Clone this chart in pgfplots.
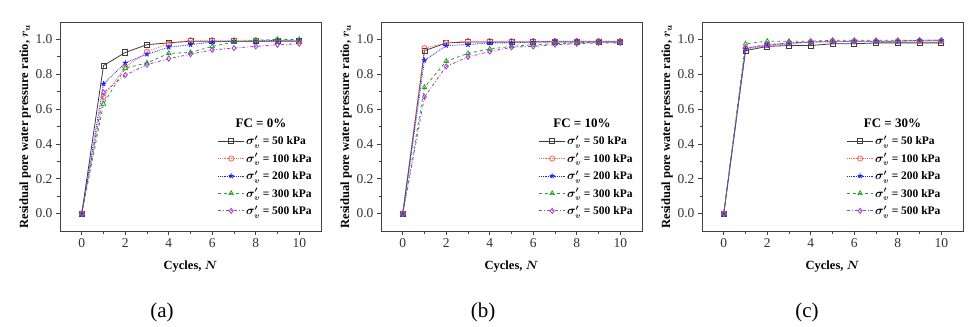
\documentclass[border=0pt]{standalone}
\usepackage{fontspec}
\setmainfont{Liberation Serif}
\usepackage{pgfplots}
\usepackage{pgfplotstable}
\pgfplotsset{compat=1.18}

\definecolor{cblack}{RGB}{60,60,60}
\definecolor{cred}{RGB}{255,95,95}
\definecolor{cblue}{RGB}{30,30,255}
\definecolor{cgreen}{RGB}{40,160,40}
\definecolor{cpurple}{RGB}{165,60,200}

\pgfplotstableread{
N s50 s100 s200 s300 s500
0 0.0 0.0 0.0 0.0 0.0
1 0.85 0.67 0.745 0.63 0.695
2 0.925 0.84 0.865 0.835 0.795
3 0.97 0.93 0.915 0.865 0.855
4 0.98 0.975 0.955 0.92 0.89
5 0.99 0.995 0.97 0.925 0.915
6 0.99 0.995 0.985 0.96 0.94
7 0.99 0.995 0.99 0.985 0.95
8 0.99 0.995 0.99 0.995 0.96
9 0.99 0.995 0.995 1.0 0.97
10 0.99 0.99 0.995 1.0 0.975
}\dataA
\pgfplotstableread{
N s50 s100 s200 s300 s500
0 0.0 0.0 0.0 0.0 0.0
1 0.935 0.95 0.88 0.725 0.67
2 0.98 0.98 0.965 0.875 0.845
3 0.985 0.99 0.97 0.92 0.90
4 0.985 0.99 0.98 0.945 0.93
5 0.985 0.99 0.98 0.96 0.955
6 0.985 0.99 0.985 0.97 0.96
7 0.985 0.99 0.99 0.975 0.97
8 0.985 0.99 0.99 0.98 0.975
9 0.985 0.99 0.99 0.985 0.98
10 0.985 0.99 0.99 0.985 0.98
}\dataB
\pgfplotstableread{
N s50 s100 s200 s300 s500
0 0.0 0.0 0.0 0.0 0.0
1 0.935 0.95 0.945 0.975 0.95
2 0.96 0.97 0.965 0.99 0.97
3 0.965 0.98 0.975 0.99 0.98
4 0.965 0.985 0.985 0.99 0.985
5 0.975 0.99 0.985 0.995 0.99
6 0.975 0.99 0.99 0.995 0.99
7 0.98 0.99 0.99 0.995 0.99
8 0.98 0.99 0.99 0.995 0.99
9 0.98 0.99 0.995 0.995 0.995
10 0.98 0.99 0.995 0.995 0.995
}\dataC

\pgfplotsset{
  panel/.style={
    scale only axis, width=261bp, height=209bp,
    xmin=-1, xmax=11, ymin=-0.1, ymax=1.1,
    xtick={0,2,...,10}, minor x tick num=1,
    ytick={0,0.2,...,1.0}, minor y tick num=1,
    tick align=outside, xtick pos=bottom, ytick pos=left,
    major tick length=4bp, minor tick length=2.5bp,
    axis line style={draw=black!75, line width=0.8bp},
    tick style={draw=black!75, line width=0.7bp},
    yticklabel style={/pgf/number format/fixed, /pgf/number format/fixed zerofill, /pgf/number format/precision=1},
    /pgf/number format/assume math mode=true,
    ticklabel style={font=\fontsize{13.5bp}{15bp}\selectfont, text=black!80},
    xlabel={\textbf{Cycles, \boldmath$N$}},
    ylabel={\textbf{Residual pore water pressure ratio, \boldmath$r_u$}},
    label style={font=\fontsize{12.5bp}{14bp}\selectfont},
    xlabel style={yshift=-6bp},
    ylabel style={yshift=-2bp},
    legend style={draw=none, fill=none, at={(0.6,0.47)}, anchor=north west,
      font=\fontsize{11.5bp}{13bp}\selectfont\bfseries\boldmath, row sep=3.2bp, inner sep=1bp,
      nodes={inner xsep=1.5bp}},
    legend cell align=left,
    legend image code/.code={\draw[mark repeat=2,mark phase=2] plot coordinates {(0bp,0bp) (13bp,0bp) (26bp,0bp)};},
    every axis plot/.append style={line width=0.8bp, mark size=2.6bp},
  },
  s50/.style={cblack, solid, mark=square, mark options={solid, fill=white}},
  s100/.style={cred, densely dotted, mark=o, mark options={solid, fill=white}},
  s200/.style={cblue, densely dotted, mark=star, mark options={solid, line width=1bp}},
  s300/.style={cgreen, dashed, mark=triangle, mark options={solid, fill=white}},
  s500/.style={cpurple, dashdotted, mark=diamond, mark options={solid, fill=white}},
}

\newcommand{\panel}[3]{%
  \addplot[s50] table[x=N,y=s50] {#1}; \addlegendentry{$\sigma_v'$ = 50 kPa}
  \addplot[s100] table[x=N,y=s100] {#1}; \addlegendentry{$\sigma_v'$ = 100 kPa}
  \addplot[s200] table[x=N,y=s200] {#1}; \addlegendentry{$\sigma_v'$ = 200 kPa}
  \addplot[s300] table[x=N,y=s300] {#1}; \addlegendentry{$\sigma_v'$ = 300 kPa}
  \addplot[s500] table[x=N,y=s500] {#1}; \addlegendentry{$\sigma_v'$ = 500 kPa}
  \node[font=\fontsize{13bp}{15bp}\selectfont\bfseries] at (rel axis cs:#2,0.515) {FC = #3\%};
}

\begin{document}
\begin{tikzpicture}
\useasboundingbox[fill=white] (0,0) rectangle (980bp,327bp);
\begin{axis}[panel, at={(60bp,96bp)}, anchor=south west]
\panel{\dataA}{0.77}{0}
\end{axis}
\begin{axis}[panel, at={(381bp,96bp)}, anchor=south west]
\panel{\dataB}{0.77}{10}
\end{axis}
\begin{axis}[panel, at={(702bp,96bp)}, anchor=south west, legend style={at={(0.55,0.47)}}]
\panel{\dataC}{0.73}{30}
\end{axis}
\node[font=\fontsize{21bp}{24bp}\selectfont] at (162bp,15bp) {(a)};
\node[font=\fontsize{21bp}{24bp}\selectfont] at (483bp,15bp) {(b)};
\node[font=\fontsize{21bp}{24bp}\selectfont] at (807bp,15bp) {(c)};
\end{tikzpicture}
\end{document}
